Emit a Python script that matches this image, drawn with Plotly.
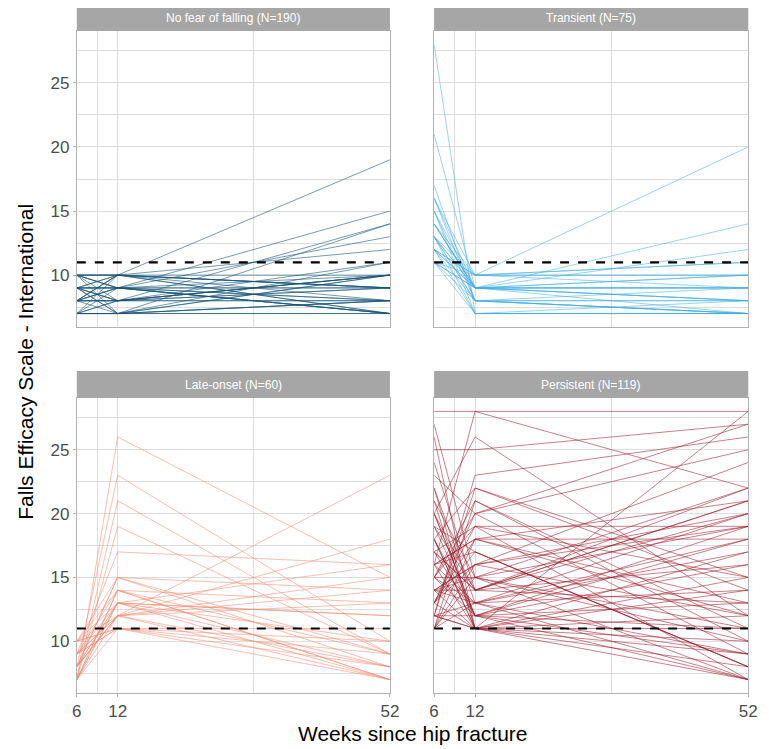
import plotly.graph_objects as go

weeks = [6, 12, 52]

# No fear of falling (N=190)
nf_w6 = [10, 9, 8, 7, 10, 9, 8, 7, 10, 9,
         8, 7, 10, 9, 8, 7, 10, 9, 8, 7,
         9, 8, 10, 7, 8, 9, 10, 8, 9, 7,
         10, 8, 9, 7, 8, 9, 10, 7, 8, 9]
nf_w12 = [10, 9, 8, 7, 9, 10, 7, 8, 8, 7,
          10, 9, 7, 8, 9, 10, 10, 9, 8, 7,
          8, 9, 10, 7, 9, 8, 9, 10, 7, 8,
          10, 8, 9, 7, 8, 10, 9, 7, 10, 9]
nf_w52 = [19, 15, 14, 14, 13, 12, 11, 11, 10, 10,
          9, 9, 8, 8, 7, 7, 10, 9, 8, 7,
          10, 7, 9, 8, 8, 10, 7, 9, 10, 9,
          7, 10, 7, 8, 9, 8, 10, 7, 9, 8]

# Transient (N=75)
tr_w6 = [28, 21, 17, 16, 16, 15, 15, 14, 14, 13,
         13, 13, 12, 12, 12, 11, 11, 11, 14, 15,
         12, 13, 11, 16, 12, 13, 14, 11, 12, 13]
tr_w12 = [7, 9, 8, 10, 9, 8, 7, 9, 10, 9,
          8, 7, 10, 9, 8, 10, 9, 7, 9, 9,
          10, 8, 9, 8, 7, 10, 9, 8, 9, 9]
tr_w52 = [7, 8, 7, 20, 14, 9, 7, 12, 11, 10,
          8, 7, 10, 9, 7, 9, 8, 7, 9, 7,
          10, 8, 9, 7, 8, 11, 10, 7, 9, 8]

# Late-onset (N=60)
lo_w6 = [7, 8, 7, 9, 10, 8, 7, 9, 10, 7,
         8, 9, 7, 10, 8, 9, 7, 8, 10, 9,
         7, 8, 9, 10, 7, 8, 9, 7, 10, 8]
lo_w12 = [26, 23, 21, 17, 15, 15, 14, 14, 13, 13,
          12, 12, 11, 11, 13, 12, 14, 12, 11, 13,
          12, 15, 11, 14, 13, 12, 11, 19, 12, 13]
lo_w52 = [15, 10, 9, 16, 14, 8, 13, 9, 10, 7,
          23, 18, 9, 7, 12, 8, 7, 14, 11, 8,
          13, 9, 10, 7, 16, 7, 8, 9, 15, 12]

# Persistent (N=119)
pe_w6 = [28, 16, 20, 14, 25, 18, 12, 23, 15, 13,
         17, 11, 19, 21, 14, 16, 12, 18, 26, 13,
         15, 20, 11, 17, 22, 14, 12, 16, 19, 13,
         24, 15, 18, 11, 27, 14, 16, 12, 20, 13,
         17, 15, 21, 11, 14, 18, 16, 12, 19, 13,
         15, 22, 14, 17, 11, 16, 13, 20, 12, 15]
pe_w12 = [28, 28, 26, 11, 25, 22, 23, 20, 21, 18,
          19, 16, 17, 15, 14, 13, 12, 11, 11, 20,
          15, 12, 18, 14, 13, 16, 22, 11, 12, 17,
          14, 19, 11, 21, 15, 13, 18, 11, 12, 16,
          14, 20, 11, 13, 15, 12, 17, 11, 14, 19,
          13, 11, 16, 12, 15, 18, 11, 14, 13, 12]
pe_w52 = [28, 22, 12, 28, 27, 15, 26, 25, 10, 21,
          19, 24, 8, 22, 16, 7, 18, 9, 14, 27,
          11, 7, 12, 20, 9, 19, 14, 10, 13, 8,
          21, 15, 17, 11, 7, 20, 13, 7, 19, 12,
          22, 9, 15, 18, 10, 16, 8, 11, 21, 7,
          14, 12, 20, 9, 19, 18, 8, 13, 17, 11]

panel_titles = ["No fear of falling (N=190)", "Transient (N=75)",
                "Late-onset (N=60)", "Persistent (N=119)"]
threshold = 11

groups = [
    (nf_w6, nf_w12, nf_w52, "rgba(22,84,118,0.65)"),
    (tr_w6, tr_w12, tr_w52, "rgba(66,174,226,0.6)"),
    (lo_w6, lo_w12, lo_w52, "rgba(244,136,110,0.6)"),
    (pe_w6, pe_w12, pe_w52, "rgba(150,20,35,0.6)"),
]

# page offset (default body margin) compensation
OFF = 8
W, H = 769 - OFF, 749 - OFF


def px(x):
    return (x - OFF) / W


def py(y):
    return 1 - (y - OFF) / H


xdoms = [(px(73), px(392)), (px(437), px(757))]
ydoms = [(py(327), py(31)), (py(693), py(398))]
strips = [(5, 31), (371, 398)]

fig = go.Figure()
for i, (a, b, c, col) in enumerate(groups):
    ax = "" if i == 0 else str(i + 1)
    for v6, v12, v52 in zip(a, b, c):
        fig.add_trace(go.Scatter(x=weeks, y=[v6, v12, v52], mode="lines",
                                 line=dict(color=col, width=0.9),
                                 xaxis="x" + ax, yaxis="y" + ax,
                                 showlegend=False, hoverinfo="skip"))
    fig.add_trace(go.Scatter(x=[weeks[0], weeks[-1]], y=[threshold, threshold],
                             mode="lines", line=dict(color="black", width=2.2, dash="dash"),
                             xaxis="x" + ax, yaxis="y" + ax,
                             showlegend=False, hoverinfo="skip"))

grid = "#DEDEDE"
border = "#B3B3B3"
layout = dict(width=W, height=H, margin=dict(l=0, r=0, t=0, b=0),
              paper_bgcolor="white", plot_bgcolor="white", showlegend=False)
for i in range(4):
    r, cidx = divmod(i, 2)
    key = "" if i == 0 else str(i + 1)
    layout["xaxis" + key] = dict(
        domain=xdoms[cidx], range=[6, 52], anchor="y" + key,
        tickvals=[6, 12, 52], ticktext=["6", "12", "52"],
        showticklabels=(r == 1), ticks="outside" if r == 1 else "",
        ticklen=3, tickcolor=border,
        tickfont=dict(family="Liberation Sans, Arial", size=17, color="#4D4D4D"),
        showgrid=True, gridcolor=grid, gridwidth=1,
        minor=dict(tickvals=[9, 32], showgrid=True, gridcolor=grid, gridwidth=0.6),
        showline=True, linecolor=border, linewidth=1, mirror=True, zeroline=False)
    layout["yaxis" + key] = dict(
        domain=ydoms[r], range=[5.95, 29.05], anchor="x" + key,
        tickvals=[10, 15, 20, 25],
        showticklabels=(cidx == 0), ticks="outside" if cidx == 0 else "",
        ticklen=3, tickcolor=border,
        tickfont=dict(family="Liberation Sans, Arial", size=17, color="#4D4D4D"),
        showgrid=True, gridcolor=grid, gridwidth=1,
        minor=dict(tickvals=[7.5, 12.5, 17.5, 22.5, 27.5], showgrid=True,
                   gridcolor=grid, gridwidth=0.6),
        showline=True, linecolor=border, linewidth=1, mirror=True, zeroline=False)
fig.update_layout(**layout)

shapes = []
annotations = []
for i, title in enumerate(panel_titles):
    r, cidx = divmod(i, 2)
    y0, y1 = strips[r]
    x0, x1 = xdoms[cidx]
    shapes.append(dict(type="rect", xref="paper", yref="paper",
                       x0=x0, x1=x1, y0=py(y1), y1=py(y0),
                       fillcolor="#A6A6A6", line=dict(width=0), layer="above"))
    annotations.append(dict(text=title, xref="paper", yref="paper",
                            x=(x0 + x1) / 2, y=py((y0 + y1) / 2),
                            showarrow=False, xanchor="center", yanchor="middle",
                            font=dict(family="Liberation Sans, Arial", size=12, color="white")))
annotations.append(dict(text="Falls Efficacy Scale - International", xref="paper", yref="paper",
                        x=px(20), y=py(362), textangle=-90, showarrow=False,
                        xanchor="center", yanchor="middle",
                        font=dict(family="Liberation Sans, Arial", size=21, color="black")))
annotations.append(dict(text="Weeks since hip fracture", xref="paper", yref="paper",
                        x=px(415), y=py(733), showarrow=False,
                        xanchor="center", yanchor="middle",
                        font=dict(family="Liberation Sans, Arial", size=21, color="black")))
fig.update_layout(shapes=shapes, annotations=annotations)

fig.write_html("out.html")
